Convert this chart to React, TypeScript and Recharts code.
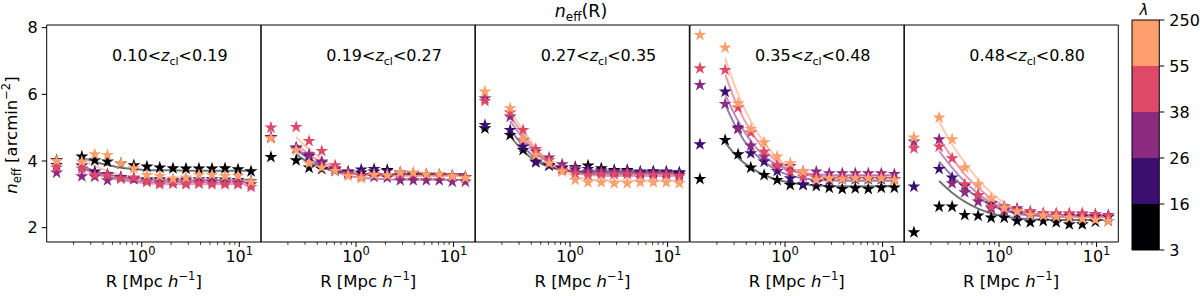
import { Bar, BarChart, ComposedChart, Line, Scatter, XAxis, YAxis, ZAxis } from "recharts";

const FONT = "DejaVu Sans, sans-serif";
const INK = "#000";

// radial bins [Mpc/h]
const R = [0.134, 0.243, 0.33, 0.445, 0.61, 0.83, 1.13, 1.53, 2.09, 2.84, 3.86, 5.25, 7.14, 9.71, 13.2];
const MAJOR_X = [1, 10];
const MINOR_X = [0.2, 0.3, 0.4, 0.5, 0.6, 0.7, 0.8, 0.9, 2, 3, 4, 5, 6, 7, 8, 9];
const Y_TICKS = [2, 4, 6, 8];
const X_DOMAIN: [number, number] = [0.106, 16.7];
const Y_DOMAIN: [number, number] = [1.57, 8.08];

const LAMBDA_EDGES = ["3", "16", "26", "38", "55", "250"];
const BIN_COLORS = ["#000004", "#3b0f70", "#8c2981", "#de4968", "#fe9f6d"];
const Z_BINS = [["0.10", "0.19"], ["0.19", "0.27"], ["0.27", "0.35"], ["0.35", "0.48"], ["0.48", "0.80"]];

// rows: lambda bins 3-16, 16-26, 26-38, 38-55, 55-250; stars at every R, fits from R[1]
const STARS_Z1 = [
  [4.02, 4.13, 4.02, 3.98, 3.92, 3.87, 3.83, 3.8, 3.78, 3.77, 3.77, 3.77, 3.78, 3.75, 3.69],
  [3.88, 3.86, 3.68, 3.6, 3.52, 3.48, 3.45, 3.45, 3.43, 3.44, 3.45, 3.45, 3.44, 3.43, 3.4],
  [3.65, 3.54, 3.53, 3.42, 3.5, 3.45, 3.4, 3.37, 3.36, 3.35, 3.36, 3.37, 3.36, 3.35, 3.3],
  [3.8, 3.77, 3.58, 3.57, 3.47, 3.5, 3.37, 3.3, 3.32, 3.3, 3.32, 3.3, 3.3, 3.3, 3.22],
  [4.0, 3.98, 4.2, 4.18, 3.93, 3.78, 3.58, 3.55, 3.47, 3.5, 3.58, 3.58, 3.55, 3.55, 3.38],
];
const FITS_Z1 = [
  [4.1, 3.98, 3.88, 3.8, 3.76, 3.73, 3.72, 3.72, 3.71, 3.71, 3.71, 3.71, 3.71, 3.71],
  [3.86, 3.7, 3.6, 3.52, 3.48, 3.46, 3.45, 3.44, 3.44, 3.44, 3.44, 3.44, 3.44, 3.44],
  [3.8, 3.65, 3.54, 3.46, 3.41, 3.38, 3.37, 3.36, 3.36, 3.36, 3.36, 3.36, 3.36, 3.36],
  [3.78, 3.62, 3.5, 3.42, 3.37, 3.33, 3.31, 3.3, 3.3, 3.3, 3.3, 3.3, 3.3, 3.3],
  [4.05, 3.85, 3.7, 3.58, 3.5, 3.46, 3.44, 3.43, 3.43, 3.43, 3.43, 3.43, 3.43, 3.43],
];

const STARS_Z2 = [
  [4.12, 4.02, 3.8, 3.76, 3.7, 3.66, 3.65, 3.68, 3.73, 3.65, 3.6, 3.58, 3.58, 3.55, 3.52],
  [4.72, 4.4, 4.15, 3.95, 3.75, 3.68, 3.74, 3.76, 3.7, 3.65, 3.62, 3.6, 3.58, 3.55, 3.5],
  [4.7, 4.38, 4.2, 3.98, 3.78, 3.62, 3.55, 3.52, 3.5, 3.42, 3.42, 3.42, 3.42, 3.38, 3.38],
  [5.0, 5.02, 4.6, 4.3, 3.87, 3.62, 3.55, 3.6, 3.58, 3.62, 3.62, 3.6, 3.6, 3.57, 3.52],
  [4.68, 4.33, 3.93, 3.8, 3.7, 3.55, 3.48, 3.58, 3.57, 3.66, 3.65, 3.6, 3.6, 3.54, 3.49],
];
const FITS_Z2 = [
  [4.2, 3.95, 3.8, 3.7, 3.65, 3.62, 3.61, 3.6, 3.6, 3.6, 3.6, 3.6, 3.6, 3.6],
  [4.35, 4.05, 3.85, 3.72, 3.65, 3.62, 3.61, 3.6, 3.6, 3.6, 3.6, 3.6, 3.6, 3.6],
  [4.4, 4.1, 3.85, 3.68, 3.56, 3.5, 3.47, 3.45, 3.44, 3.44, 3.44, 3.44, 3.44, 3.44],
  [4.5, 4.2, 3.95, 3.78, 3.66, 3.6, 3.57, 3.56, 3.56, 3.56, 3.56, 3.56, 3.56, 3.56],
  [4.72, 4.35, 4.05, 3.82, 3.68, 3.6, 3.57, 3.56, 3.56, 3.56, 3.56, 3.56, 3.56, 3.56],
];

const STARS_Z3 = [
  [4.98, 4.78, 4.33, 3.98, 3.88, 3.8, 3.82, 3.86, 3.78, 3.73, 3.73, 3.66, 3.68, 3.66, 3.63],
  [5.08, 4.93, 4.43, 3.96, 3.86, 3.78, 3.74, 3.76, 3.72, 3.7, 3.7, 3.68, 3.68, 3.68, 3.66],
  [5.88, 5.33, 4.63, 4.28, 4.1, 3.9, 3.8, 3.68, 3.68, 3.68, 3.68, 3.63, 3.63, 3.63, 3.58],
  [5.8, 5.45, 4.93, 4.36, 4.03, 3.73, 3.63, 3.58, 3.6, 3.6, 3.6, 3.58, 3.58, 3.58, 3.53],
  [6.08, 5.58, 4.65, 4.18, 3.93, 3.68, 3.43, 3.36, 3.36, 3.33, 3.33, 3.36, 3.36, 3.36, 3.33],
];
const FITS_Z3 = [
  [4.75, 4.3, 4.0, 3.82, 3.74, 3.7, 3.69, 3.69, 3.69, 3.69, 3.69, 3.69, 3.69, 3.69],
  [4.95, 4.45, 4.08, 3.85, 3.73, 3.68, 3.66, 3.65, 3.65, 3.65, 3.65, 3.65, 3.65, 3.65],
  [5.2, 4.68, 4.25, 3.95, 3.76, 3.66, 3.62, 3.6, 3.6, 3.6, 3.6, 3.6, 3.6, 3.6],
  [5.35, 4.8, 4.33, 3.98, 3.76, 3.64, 3.58, 3.56, 3.55, 3.55, 3.55, 3.55, 3.55, 3.55],
  [5.5, 4.92, 4.4, 3.98, 3.7, 3.53, 3.45, 3.42, 3.41, 3.41, 3.41, 3.41, 3.41, 3.41],
];

const STARS_Z4 = [
  [3.46, 4.63, 4.2, 3.8, 3.58, 3.43, 3.28, 3.28, 3.25, 3.2, 3.16, 3.18, 3.16, 3.2, 3.2],
  [4.5, 6.08, 5.0, 4.23, 3.98, 3.7, 3.48, 3.3, 3.36, 3.42, 3.45, 3.45, 3.45, 3.45, 3.45],
  [6.28, 5.71, 4.96, 4.46, 4.13, 3.83, 3.85, 3.68, 3.68, 3.63, 3.63, 3.63, 3.63, 3.63, 3.61],
  [6.78, 6.73, 5.6, 4.85, 4.28, 3.88, 3.68, 3.53, 3.5, 3.46, 3.5, 3.5, 3.5, 3.5, 3.45],
  [7.78, 7.4, 5.73, 4.96, 4.56, 4.13, 3.93, 3.68, 3.43, 3.48, 3.46, 3.48, 3.48, 3.48, 3.43],
];
const FITS_Z4 = [
  [4.55, 4.1, 3.8, 3.58, 3.44, 3.35, 3.3, 3.27, 3.25, 3.24, 3.24, 3.24, 3.24, 3.24],
  [5.7, 4.9, 4.35, 3.98, 3.72, 3.57, 3.48, 3.44, 3.42, 3.41, 3.41, 3.41, 3.41, 3.41],
  [6.0, 5.2, 4.6, 4.15, 3.88, 3.72, 3.64, 3.6, 3.58, 3.57, 3.57, 3.57, 3.57, 3.57],
  [6.6, 5.6, 4.9, 4.35, 3.98, 3.75, 3.62, 3.55, 3.52, 3.5, 3.5, 3.5, 3.5, 3.5],
  [7.08, 6.0, 5.2, 4.55, 4.1, 3.8, 3.62, 3.52, 3.47, 3.45, 3.45, 3.45, 3.45, 3.45],
];

const STARS_Z5 = [
  [1.86, 2.63, 2.63, 2.38, 2.36, 2.3, 2.3, 2.2, 2.16, 2.2, 2.16, 2.1, 2.1, 2.18, 2.2],
  [3.23, 3.76, 3.5, 3.26, 2.98, 2.72, 2.52, 2.42, 2.38, 2.36, 2.35, 2.34, 2.33, 2.33, 2.32],
  [4.58, 4.65, 3.33, 3.06, 2.78, 2.58, 2.63, 2.58, 2.45, 2.42, 2.4, 2.4, 2.4, 2.4, 2.38],
  [4.38, 4.43, 4.08, 3.3, 2.98, 2.63, 2.55, 2.53, 2.5, 2.43, 2.43, 2.43, 2.43, 2.4, 2.36],
  [4.7, 5.3, 4.65, 3.8, 3.3, 2.88, 2.6, 2.48, 2.38, 2.36, 2.33, 2.3, 2.26, 2.23, 2.2],
];
const FITS_Z5 = [
  [3.4, 3.05, 2.78, 2.57, 2.43, 2.34, 2.28, 2.25, 2.24, 2.23, 2.23, 2.23, 2.23, 2.23],
  [3.98, 3.55, 3.2, 2.9, 2.68, 2.52, 2.42, 2.37, 2.34, 2.33, 2.33, 2.33, 2.33, 2.33],
  [4.3, 3.8, 3.38, 3.02, 2.75, 2.57, 2.46, 2.4, 2.37, 2.36, 2.36, 2.36, 2.36, 2.36],
  [4.7, 4.1, 3.6, 3.2, 2.88, 2.66, 2.52, 2.44, 2.4, 2.38, 2.38, 2.38, 2.38, 2.38],
  [5.18, 4.5, 3.95, 3.45, 3.05, 2.75, 2.55, 2.43, 2.37, 2.34, 2.33, 2.32, 2.32, 2.32],
];

const PANEL_STARS = [STARS_Z1, STARS_Z2, STARS_Z3, STARS_Z4, STARS_Z5];
const PANEL_FITS = [FITS_Z1, FITS_Z2, FITS_Z3, FITS_Z4, FITS_Z5];

const H = 296;
const PANEL_LEFT = 46.7;
const PANEL_W = 214.3;
const PLOT_TOP = 25;
const PLOT_BOTTOM = 242;
const XAXIS_H = 30;

function XTick({ x, y, payload }: any) {
  const v = payload.value;
  const major = MAJOR_X.includes(v);
  return (
    <g>
      <line x1={x} x2={x} y1={y} y2={y + (major ? 5 : 2.8)} stroke={INK} strokeWidth={major ? 1 : 0.8} />
      {major && (
        <text x={x} y={y + 20} textAnchor="middle" fontSize={16} fontFamily={FONT} fill={INK}>
          10<tspan dy={-7} fontSize={11.5}>{Math.round(Math.log10(v))}</tspan>
        </text>
      )}
    </g>
  );
}

function Panel({ index }: { index: number }) {
  const first = index === 0;
  const yw = first ? PANEL_LEFT : 6;
  const left = PANEL_LEFT + index * PANEL_W - yw;
  const stars = PANEL_STARS[index].map((vals) => vals.map((v, i) => ({ r: R[i], v })));
  const fits = PANEL_FITS[index].map((vals) => vals.map((v, i) => ({ r: R[i + 1], v })));
  return (
    <div style={{ position: "absolute", left, top: 0 }}>
      {/* top and right axes are 1px boxes: they only draw the frame */}
      <ComposedChart width={yw + PANEL_W + 1} height={H}
        margin={{ top: PLOT_TOP - 1, right: 0, bottom: H - PLOT_BOTTOM - XAXIS_H, left: 0 }}>
        <XAxis type="number" dataKey="r" scale="log" domain={X_DOMAIN} allowDataOverflow
          ticks={[...MINOR_X, ...MAJOR_X]} interval={0} tick={<XTick />} tickLine={false}
          tickSize={0} tickMargin={0} height={XAXIS_H} stroke={INK} />
        <XAxis xAxisId="top" orientation="top" type="number" dataKey="r" scale="log" domain={X_DOMAIN}
          allowDataOverflow tick={false} tickLine={false} height={1} stroke={INK} />
        <YAxis type="number" domain={Y_DOMAIN} allowDataOverflow ticks={Y_TICKS} interval={0} width={yw}
          tickSize={5} tickMargin={4} stroke={INK}
          tick={first ? { fill: INK, fontSize: 16, fontFamily: FONT } : false} />
        <YAxis yAxisId="right" orientation="right" type="number" domain={Y_DOMAIN} allowDataOverflow
          tick={false} tickLine={false} width={1} stroke={INK} />
        <ZAxis range={[52, 52]} />
        {fits.map((d, b) => (
          <Line key={"fit" + b} data={d} dataKey="v" type="monotone" stroke={BIN_COLORS[b]}
            strokeOpacity={0.55} strokeWidth={2} dot={false} activeDot={false} isAnimationActive={false} />
        ))}
        {stars.map((d, b) => (
          <Scatter key={"star" + b} data={d} dataKey="v" shape="star" fill={BIN_COLORS[b]} isAnimationActive={false} />
        ))}
      </ComposedChart>
    </div>
  );
}

const CB_LEFT = 1131.7;
const CB_W = 27.3;
const CB_TOP = 20;
const CB_BOTTOM = 250;

function Colorbar() {
  const row: Record<string, string | number> = { k: "cb" };
  BIN_COLORS.forEach((_, i) => (row["b" + i] = 1));
  return (
    <div style={{ position: "absolute", left: CB_LEFT - 1, top: 0 }}>
      <BarChart width={CB_W + 61} height={H} data={[row]} barCategoryGap={0}
        margin={{ top: CB_TOP - 1, right: 0, bottom: H - CB_BOTTOM - 1, left: 0 }}>
        <XAxis dataKey="k" tick={false} tickLine={false} height={1} stroke={INK} />
        <XAxis xAxisId="top" orientation="top" dataKey="k" tick={false} tickLine={false} height={1} stroke={INK} />
        <YAxis orientation="right" type="number" domain={[0, BIN_COLORS.length]}
          ticks={LAMBDA_EDGES.map((_, i) => i)} interval={0} tickFormatter={(i) => LAMBDA_EDGES[i]}
          width={60} tickSize={5} tickMargin={5} stroke={INK}
          tick={{ fill: INK, fontSize: 16, fontFamily: FONT }} />
        <YAxis yAxisId="left" orientation="left" type="number" domain={[0, BIN_COLORS.length]}
          tick={false} tickLine={false} width={1} stroke={INK} />
        {BIN_COLORS.map((c, i) => (
          <Bar key={i} dataKey={"b" + i} stackId="cb" fill={c} isAnimationActive={false} />
        ))}
      </BarChart>
    </div>
  );
}

function Labels() {
  return (
    <svg width={1200} height={H} style={{ position: "absolute", left: 0, top: 0, pointerEvents: "none" }}
      fontFamily={FONT} fill={INK}>
      <text x={581} y={17} textAnchor="middle" fontSize={17.5}>
        <tspan fontStyle="italic">n</tspan>
        <tspan dy={4} fontSize={12}>eff</tspan>
        <tspan dy={-4}>(R)</tspan>
      </text>
      {Z_BINS.map(([lo, hi], i) => (
        <text key={"z" + i} x={PANEL_LEFT + (i + 0.5) * PANEL_W + 16} y={61} textAnchor="middle" fontSize={16}>
          {lo + "<"}
          <tspan fontStyle="italic">z</tspan>
          <tspan dy={4} fontSize={11}>cl</tspan>
          <tspan dy={-4}>{"<" + hi}</tspan>
        </text>
      ))}
      {Z_BINS.map((_, i) => (
        <text key={"x" + i} x={PANEL_LEFT + (i + 0.5) * PANEL_W} y={287} textAnchor="middle" fontSize={16.5}>
          {"R [Mpc "}
          <tspan fontStyle="italic">h</tspan>
          <tspan dy={-7} fontSize={11.5}>−1</tspan>
          <tspan dy={7}>]</tspan>
        </text>
      ))}
      <text transform="translate(17,135) rotate(-90)" textAnchor="middle" fontSize={16.5}>
        <tspan fontStyle="italic">n</tspan>
        <tspan dy={4} fontSize={11.5}>eff</tspan>
        <tspan dy={-4}>{" [arcmin"}</tspan>
        <tspan dy={-7} fontSize={11.5}>−2</tspan>
        <tspan dy={7}>]</tspan>
      </text>
      <text x={1144} y={15} textAnchor="middle" fontSize={15} fontStyle="italic">λ</text>
    </svg>
  );
}

export default function App() {
  return (
    <div style={{ position: "absolute", left: 0, top: 0, width: 1200, height: H, background: "#fff", fontFamily: FONT }}>
      {PANEL_STARS.map((_, i) => <Panel key={i} index={i} />)}
      <Colorbar />
      <Labels />
    </div>
  );
}
